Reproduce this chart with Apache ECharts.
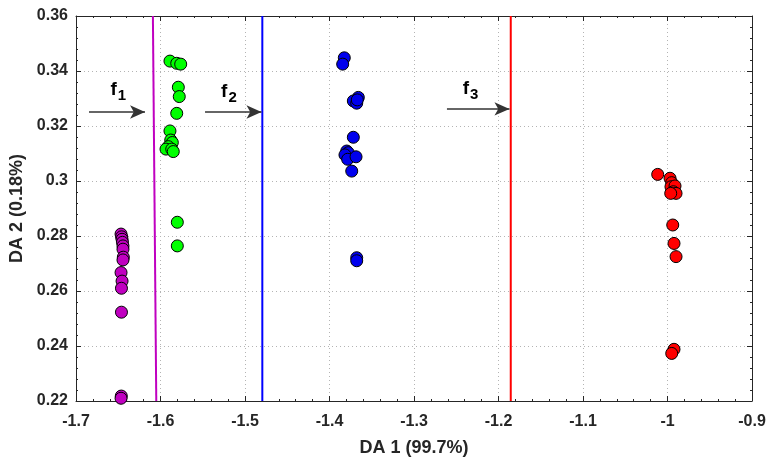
<!DOCTYPE html>
<html><head><meta charset="utf-8">
<script src="https://cdn.jsdelivr.net/npm/echarts@6/dist/echarts.min.js"></script>
<style>html,body{margin:0;padding:0;background:#fff}#c{width:766px;height:457px}</style>
</head><body><div id="c"></div>
<script>
// ---- data ----
const xTicks = [-1.7,-1.6,-1.5,-1.4,-1.3,-1.2,-1.1,-1,-0.9];
const yTicks = [0.22,0.24,0.26,0.28,0.30,0.32,0.34,0.36];
const groupMagenta = [
  [-1.6467,0.2807],[-1.6460,0.2797],[-1.6455,0.2788],[-1.6450,0.2777],[-1.6444,0.2764],
  [-1.6444,0.2752],[-1.6440,0.2723],[-1.6444,0.2713],[-1.6467,0.2667],[-1.6455,0.2636],
  [-1.6462,0.2610],[-1.6462,0.2523],[-1.6464,0.2218],[-1.6467,0.2210]
];
const groupGreen = [
  [-1.5888,0.3436],[-1.5808,0.3428],[-1.5761,0.3425],[-1.5789,0.3341],[-1.5778,0.3307],
  [-1.5808,0.3246],[-1.5888,0.3182],[-1.5879,0.3149],[-1.5860,0.3140],[-1.5908,0.3125],
  [-1.5935,0.3116],[-1.5867,0.3116],[-1.5849,0.3107],[-1.5801,0.2850],[-1.5801,0.2764]
];
const groupBlue = [
  [-1.3825,0.3448],[-1.3844,0.3425],[-1.3659,0.3304],[-1.3718,0.3291],[-1.3678,0.3283],
  [-1.3671,0.3295],[-1.3718,0.3159],[-1.3796,0.3109],[-1.3778,0.3103],[-1.3817,0.3095],
  [-1.3785,0.3079],[-1.3686,0.3088],[-1.3737,0.3036],[-1.3678,0.2721],[-1.3678,0.2710]
];
const groupRed = [
  [-1.0116,0.3024],[-0.9970,0.3010],[-0.9950,0.2994],[-0.9959,0.2979],[-0.9911,0.2982],
  [-0.9931,0.2961],[-0.9899,0.2955],[-0.9962,0.2955],[-0.9938,0.2840],[-0.9923,0.2773],
  [-0.9899,0.2725],[-0.9923,0.2388],[-0.9950,0.2373]
];
const line1 = [[-1.609,0.36],[-1.605,0.22]];
const line2 = [[-1.4795,0.36],[-1.4795,0.22]];
const line3 = [[-1.1855,0.36],[-1.1855,0.22]];
const arrows = [
  [[-1.6846,0.3251],[-1.6183,0.3251]],
  [[-1.5473,0.3251],[-1.4805,0.3251]],
  [[-1.2610,0.3262],[-1.1870,0.3262]]
];
const arrowLabels = [
  {name:'1', coord:[-1.6500,0.3330]},
  {name:'2', coord:[-1.5190,0.3325]},
  {name:'3', coord:[-1.2330,0.3336]}
];
const xName = 'DA 1 (99.7%)';
const yName = 'DA 2 (0.18%)';

// ---- chart ----
const FONT = '"Liberation Sans",Arial,sans-serif';
const fmt = v => String(parseFloat(Number(v).toFixed(2)));
const chart = echarts.init(document.getElementById('c'), null, {renderer:'canvas'});
function scatter(data, color){
  return {type:'scatter', data, symbol:'circle', symbolSize:12, z:5,
    itemStyle:{color, borderColor:'#000', borderWidth:1, opacity:1}};
}
function vline(data, color){
  return {type:'line', data, symbol:'none', z:3, lineStyle:{color, width:2}, animation:false};
}
const axLine = {show:true, lineStyle:{color:'#262626', width:1}};
const axTick = {show:true, inside:true, length:5, lineStyle:{color:'#262626'}};
const axMinor = {show:true, splitNumber:5, length:2, lineStyle:{color:'#262626'}};
const gridLine = {show:true, lineStyle:{color:'#b4b4b4', type:[1,3], width:1}};
chart.setOption({
  animation:false,
  grid:{left:76, right:14, top:16, bottom:56, containLabel:false, outerBoundsMode:'none'},
  xAxis:[{
    type:'value', min:xTicks[0], max:xTicks[xTicks.length-1], interval:0.1, position:'bottom',
    axisLine:axLine, axisTick:axTick, minorTick:axMinor,
    axisLabel:{formatter:fmt, color:'#262626', fontFamily:FONT, fontWeight:'bold', fontSize:16, margin:13},
    splitLine:gridLine,
    name:xName, nameLocation:'middle', nameGap:38,
    nameTextStyle:{color:'#262626', fontFamily:FONT, fontWeight:'bold', fontSize:18}
  },{
    type:'value', min:xTicks[0], max:xTicks[xTicks.length-1], interval:0.1, position:'top',
    axisLine:axLine, axisTick:axTick, minorTick:axMinor,
    axisLabel:{show:false}, splitLine:{show:false}
  }],
  yAxis:[{
    type:'value', min:yTicks[0], max:yTicks[yTicks.length-1], interval:0.02, position:'left',
    axisLine:axLine, axisTick:axTick, minorTick:axMinor,
    axisLabel:{formatter:fmt, color:'#262626', fontFamily:FONT, fontWeight:'bold', fontSize:16, margin:8},
    splitLine:gridLine,
    name:yName, nameLocation:'middle', nameGap:46, nameRotate:90,
    nameTextStyle:{color:'#262626', fontFamily:FONT, fontWeight:'bold', fontSize:18}
  },{
    type:'value', min:yTicks[0], max:yTicks[yTicks.length-1], interval:0.02, position:'right',
    axisLine:axLine, axisTick:axTick, minorTick:axMinor,
    axisLabel:{show:false}, splitLine:{show:false}
  }],
  series:[
    vline(line1,'#c000c0'), vline(line2,'#0000ff'), vline(line3,'#ff0000'),
    {type:'scatter', data:[], z:6,
     markLine:{silent:true, animation:false, symbol:['none','arrow'], symbolSize:[10,15],
       lineStyle:{color:'#333', width:1.5, type:'solid'}, label:{show:false},
       data: arrows.map(a=>[{coord:a[0]},{coord:a[1]}])},
     markPoint:{silent:true, symbol:'circle', symbolSize:0, animation:false,
       label:{show:true, formatter:p=>'{f|f}{s|'+p.name+'}', rich:{
         f:{fontFamily:FONT, fontWeight:'bold', fontSize:19, color:'#000'},
         s:{fontFamily:FONT, fontWeight:'bold', fontSize:15, color:'#000', padding:[12,0,0,1]}
       }},
       data: arrowLabels.map(d=>({name:d.name, coord:d.coord}))}
    },
    scatter(groupMagenta,'#c000c0'), scatter(groupGreen,'#00ff00'),
    scatter(groupBlue,'#0000ee'), scatter(groupRed,'#ff0000')
  ]
});
</script></body></html>
